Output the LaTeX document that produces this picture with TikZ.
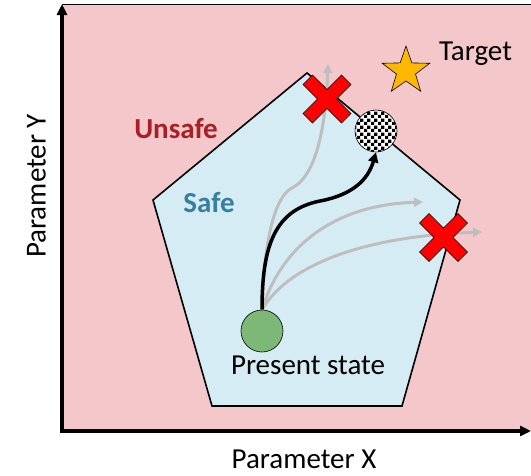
\documentclass[tikz,border=0pt]{standalone}
\usepackage{fontspec}
\setmainfont{Carlito}
\usepackage{xcolor}
\definecolor{unsafebg}{RGB}{244,199,202}
\definecolor{safebg}{RGB}{214,236,244}
\definecolor{unsafetext}{RGB}{170,30,38}
\definecolor{safetext}{RGB}{52,127,162}
\definecolor{stategreen}{RGB}{125,184,118}
\definecolor{targetgold}{RGB}{255,184,0}
\definecolor{trajgray}{RGB}{190,190,190}
\usetikzlibrary{positioning}
\usetikzlibrary{arrows.meta}
\usetikzlibrary{shapes}
\usetikzlibrary{patterns.meta}

\tikzdeclarepattern{name=bigchecker, type=uncolored,
  bounding box={(0pt,0pt) and (7pt,7pt)}, tile size={(7pt,7pt)},
  code={\fill (0pt,0pt) rectangle (3.5pt,3.5pt); \fill (3.5pt,3.5pt) rectangle (7pt,7pt);}}

\tikzset{fail cross/.pic={
    \filldraw[fill=red,draw=black,line width=0.6pt] (-24,-14.5) -- (-14.5,-24) -- (0,-9.5)
      -- (14.5,-24) -- (24,-14.5) -- (9.5,0) -- (24,14.5) -- (14.5,24) -- (0,9.5)
      -- (-14.5,24) -- (-24,14.5) -- (-9.5,0) -- cycle;
  }}

\begin{document}
\begin{tikzpicture}[x=1pt,y=-1pt,font=\fontsize{29}{34}\selectfont,
      axis line/.style={line width=3.5pt,line join=miter,
        {Triangle[length=11pt,width=10pt]}-{Triangle[length=11pt,width=10pt]}},
      traj style/.style={trajgray,line width=3pt,-{Triangle[length=9pt,width=9pt]}},
      main traj/.style={black,line width=3.5pt,-{Triangle[length=10pt,width=10pt]}},
      state style/.style={circle,draw=black,line width=0.6pt,minimum size=42pt,inner sep=0pt},
      region style/.style={anchor=base,font=\fontsize{29}{34}\selectfont\bfseries}
      ]
      \useasboundingbox (0,0) rectangle (531,475);

      % parameter space
      \fill[unsafebg] (62,4) rectangle (531,431);
      \draw[line width=0.8pt] (62,4) -- (531,4);
      \coordinate (origin) at (62,431);
      \coordinate (yend) at (62,4);
      \coordinate (xend) at (531,431);
      \draw[axis line] (yend) -- (origin) -- (xend);

      % safe set
      \draw[fill=safebg,line width=1.6pt,line join=miter]
        (307,73) -- (460,200) -- (402,406) -- (212,406) -- (153,200) -- cycle;

      \node[region style,text=unsafetext] (unsafe) at (176,138) {Unsafe};
      \node[region style,text=safetext] (safe) at (209,212) {Safe};

      \node[state style,fill=stategreen] (present) at (262,331) {};
      \node[state style,fill=white,postaction={pattern=bigchecker}] (goal) at (376,131) {};
      \node[star,star points=5,star point ratio=2.5,fill=targetgold,draw=black,
        line width=0.6pt,minimum size=50pt,inner sep=0pt] (target) at (406,71) {};

      \coordinate (upend) at (328,64);
      \coordinate (midend) at (423,202);
      \coordinate (rightend) at (482,232);

      \draw[traj style] (present.north) .. controls (264,235) and (276,196) .. (292,188)
        .. controls (318,175) and (326,120) .. (upend);
      \draw[traj style] (present.north) .. controls (280,250) and (330,205) .. (midend);
      \draw[traj style] (present.north) .. controls (290,262) and (370,236) .. (rightend);
      \draw[main traj] (present.north) .. controls (262,245) and (275,210) .. (320,201)
        .. controls (352,195) and (368,180) .. (goal.south);

      \pic at (327,99) {fail cross};
      \pic at (443.5,237.5) {fail cross};

      \node[anchor=base] (targetlabel) at (475.5,60) {Target};
      \node[anchor=base] (presentlabel) at (308,374) {Present state};
      \node[anchor=base,inner sep=1pt] (xlabel) at (304,468) {Parameter X};
      \node[anchor=base,rotate=90] (ylabel) at (45.5,186) {Parameter Y};
    \end{tikzpicture}
\end{document}
